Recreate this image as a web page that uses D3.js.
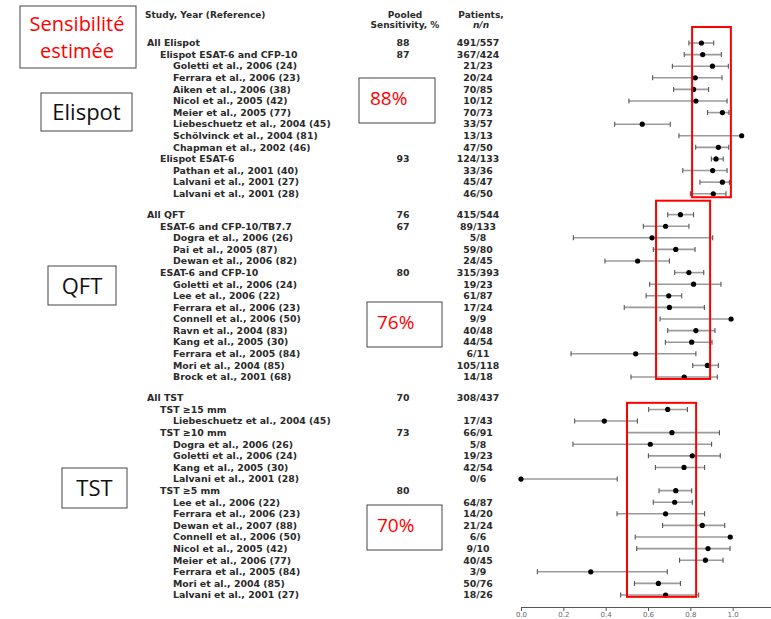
<!DOCTYPE html>
<html>
<head>
<meta charset="utf-8">
<script src="https://cdn.jsdelivr.net/npm/d3@7"></script>
<style>
  body { margin: 0; background: #fff; }
  svg { display: block; }
  .tbl { font-family: "DejaVu Sans", Verdana, sans-serif; font-weight: bold; fill: #2a2a2a; }
</style>
</head>
<body>
<div id="chart"></div>
<script>
// forest plot, sensitivity of Elispot / QFT / TST

// rows, top to bottom
var labels = [
  "All Elispot", "Elispot ESAT-6 and CFP-10", "Goletti et al., 2006 (24)", "Ferrara et al., 2006 (23)",
  "Aiken et al., 2006 (38)", "Nicol et al., 2005 (42)", "Meier et al., 2005 (77)",
  "Liebeschuetz et al., 2004 (45)", "Schölvinck et al., 2004 (81)", "Chapman et al., 2002 (46)",
  "Elispot ESAT-6", "Pathan et al., 2001 (40)", "Lalvani et al., 2001 (27)", "Lalvani et al., 2001 (28)",

  "All QFT", "ESAT-6 and CFP-10/TB7.7", "Dogra et al., 2006 (26)", "Pai et al., 2005 (87)",
  "Dewan et al., 2006 (82)", "ESAT-6 and CFP-10", "Goletti et al., 2006 (24)", "Lee et al., 2006 (22)",
  "Ferrara et al., 2006 (23)", "Connell et al., 2006 (50)", "Ravn et al., 2004 (83)",
  "Kang et al., 2005 (30)", "Ferrara et al., 2005 (84)", "Mori et al., 2004 (85)", "Brock et al., 2001 (68)",

  "All TST", "TST \u226515 mm", "Liebeschuetz et al., 2004 (45)", "TST \u226510 mm",
  "Dogra et al., 2006 (26)", "Goletti et al., 2006 (24)", "Kang et al., 2005 (30)",
  "Lalvani et al., 2001 (28)", "TST \u22655 mm", "Lee et al., 2006 (22)", "Ferrara et al., 2006 (23)",
  "Dewan et al., 2007 (88)", "Connell et al., 2006 (50)", "Nicol et al., 2005 (42)",
  "Meier et al., 2006 (77)", "Ferrara et al., 2005 (84)", "Mori et al., 2004 (85)", "Lalvani et al., 2001 (27)"
];

// 0 = overall, 1 = subgroup, 2 = study
var levels = [
  0, 1, 2, 2, 2, 2, 2, 2, 2, 2, 1, 2, 2, 2,
  0, 1, 2, 2, 2, 1, 2, 2, 2, 2, 2, 2, 2, 2, 2,
  0, 1, 2, 1, 2, 2, 2, 2, 1, 2, 2, 2, 2, 2, 2, 2, 2, 2
];

var groups = [
  0, 0, 0, 0, 0, 0, 0, 0, 0, 0, 0, 0, 0, 0,
  1, 1, 1, 1, 1, 1, 1, 1, 1, 1, 1, 1, 1, 1, 1,
  2, 2, 2, 2, 2, 2, 2, 2, 2, 2, 2, 2, 2, 2, 2, 2, 2, 2
];

var pooled = [
  "88", "87", "", "", "", "", "", "", "", "", "93", "", "", "",
  "76", "67", "", "", "", "80", "", "", "", "", "", "", "", "", "",
  "70", "", "", "73", "", "", "", "", "80", "", "", "", "", "", "", "", "", ""
];

var patients = [
  "491/557", "367/424", "21/23", "20/24", "70/85", "10/12", "70/73", "33/57", "13/13", "47/50",
  "124/133", "33/36", "45/47", "46/50",
  "415/544", "89/133", "5/8", "59/80", "24/45", "315/393", "19/23", "61/87", "17/24", "9/9",
  "40/48", "44/54", "6/11", "105/118", "14/18",
  "308/437", "", "17/43", "66/91", "5/8", "19/23", "42/54", "0/6", "", "64/87", "14/20",
  "21/24", "6/6", "9/10", "40/45", "3/9", "50/76", "18/26"
];

// point estimate and 95% CI (null = not drawn)
var ciLow = [
  0.792, 0.770, 0.714, 0.621, 0.720, 0.509, 0.880, 0.442, 0.745, 0.824, 0.898, 0.763, 0.844, 0.799,
  0.692, 0.577, 0.247, 0.624, 0.396, 0.725, 0.607, 0.590, 0.487, 0.656, 0.692, 0.681, 0.236, 0.810, 0.519,
  null, 0.602, 0.253, 0.498, 0.245, 0.601, 0.634, 0.000, 0.651, 0.624, 0.453, 0.668, 0.539, 0.546,
  0.748, 0.077, 0.535, 0.470
];
var ciEst = [
  0.851, 0.857, 0.903, 0.822, 0.814, 0.825, 0.950, 0.572, 1.041, 0.931, 0.920, 0.904, 0.950, 0.907,
  0.752, 0.682, 0.618, 0.730, 0.550, 0.792, 0.814, 0.697, 0.700, 0.991, 0.825, 0.805, 0.541, 0.879, 0.770,
  null, 0.692, 0.393, 0.712, 0.610, 0.808, 0.769, 0.000, 0.730, 0.725, 0.682, 0.855, 0.987, 0.882,
  0.870, 0.329, 0.648, 0.682
];
var ciHigh = [
  0.909, 0.945, 0.978, 0.948, 0.885, 0.972, 0.981, 0.704, null, 0.980, 0.954, 0.972, 0.983, 0.967,
  0.814, 0.792, 0.904, 0.821, 0.700, 0.862, 0.943, 0.758, 0.865, null, 0.915, 0.901, 0.825, 0.931, 0.926,
  null, 0.785, 0.549, 0.936, 0.899, 0.940, 0.866, 0.454, 0.805, 0.808, 0.866, 0.961, null, 0.986,
  0.953, 0.690, 0.752, 0.838
];

var axisTicks = [0, 0.2, 0.4, 0.6, 0.8, 1.0];

// highlighted ranges per group (sensitivity units)
var bandLow = [0.807, 0.637, 0.500];
var bandHigh = [0.990, 0.892, 0.826];
var bandText = ["88%", "76%", "70%"];
var groupNames = ["Elispot", "QFT", "TST"];

var W = 771, H = 619;
var svg = d3.select("#chart").append("svg").attr("width", W).attr("height", H);

var rows = labels.map(function (d, i) {
  return {
    label: d, level: levels[i], group: groups[i], pooled: pooled[i], patients: patients[i],
    lo: ciLow[i], est: ciEst[i], hi: ciHigh[i],
    slot: i + groups[i] * 0.8
  };
});

var y = d3.scaleLinear().domain([0, 47.6]).range([43, 595]);
var x = d3.scaleLinear().domain([0, 1]).range([521, 733]);

var indent = [147, 160, 173];
var colPooled = 403, colPatients = 478;

// header
var head = svg.append("g").attr("class", "tbl").style("font-size", "9px");
head.append("text").attr("x", 145).attr("y", 18).text("Study, Year (Reference)");
head.append("text").attr("x", colPooled + 2).attr("y", 18).attr("text-anchor", "middle").text("Pooled");
head.append("text").attr("x", colPooled + 2).attr("y", 28).attr("text-anchor", "middle").text("Sensitivity, %");
head.append("text").attr("x", colPatients + 3).attr("y", 18).attr("text-anchor", "middle").text("Patients,");
head.append("text").attr("x", colPatients + 3).attr("y", 28).attr("text-anchor", "middle")
  .style("font-style", "italic").text("n/n");

// table columns
var tbl = svg.append("g").attr("class", "tbl").style("font-size", "9.4px");
var row = tbl.selectAll("g.row").data(rows).enter().append("g")
  .attr("class", "row")
  .attr("transform", function (d) { return "translate(0," + (y(d.slot) + 3.3) + ")"; });

row.append("text").attr("x", function (d) { return indent[d.level]; }).text(function (d) { return d.label; });
row.append("text").attr("x", colPooled).attr("text-anchor", "middle").text(function (d) { return d.pooled; });
row.append("text").attr("x", colPatients).attr("text-anchor", "middle").text(function (d) { return d.patients; });

// confidence intervals
var ci = svg.append("g").selectAll("g").data(rows.filter(function (d) { return d.est !== null; }))
  .enter().append("g")
  .attr("transform", function (d) { return "translate(0," + y(d.slot) + ")"; });

ci.append("line")
  .attr("x1", function (d) { return x(d.lo); })
  .attr("x2", function (d) { return x(d.hi === null ? d.est : d.hi); })
  .attr("stroke", "#9a9a9a").attr("stroke-width", 1.6);

ci.append("line")
  .attr("x1", function (d) { return x(d.lo); }).attr("x2", function (d) { return x(d.lo); })
  .attr("y1", -2.5).attr("y2", 2.5)
  .attr("stroke", "#555").attr("stroke-width", 1.1);

ci.filter(function (d) { return d.hi !== null; }).append("line")
  .attr("x1", function (d) { return x(d.hi); }).attr("x2", function (d) { return x(d.hi); })
  .attr("y1", -2.5).attr("y2", 2.5)
  .attr("stroke", "#555").attr("stroke-width", 1.1);

ci.append("circle")
  .attr("cx", function (d) { return x(d.est); })
  .attr("r", 2.6)
  .attr("fill", "#000");

// x axis
var xAxis = d3.axisBottom(d3.scaleLinear().domain([0, 1.2]).range([521, 775]))
  .tickValues(axisTicks)
  .tickFormat(d3.format(".1f"))
  .tickSize(4)
  .tickSizeOuter(0);

var ax = svg.append("g").attr("transform", "translate(0,607)").call(xAxis);
ax.select(".domain").attr("stroke", "#555");
ax.selectAll(".tick line").attr("stroke", "#555");
ax.selectAll(".tick text")
  .attr("y", 9.5)
  .attr("dy", 0)
  .style("font-family", "DejaVu Sans, sans-serif")
  .style("font-size", "7px")
  .attr("fill", "#666");

// red highlight boxes around each group's CIs
var slotFirst = [0, 14.8, 30.6], slotLast = [13, 28.8, 47.6];
var padTop = [1.38, 1.2, -0.43], padBot = [0.3, 0.17, 0.16];

svg.append("g").selectAll("rect").data(groupNames).enter().append("rect")
  .attr("x", function (d, i) { return x(bandLow[i]); })
  .attr("width", function (d, i) { return x(bandHigh[i]) - x(bandLow[i]); })
  .attr("y", function (d, i) { return y(slotFirst[i] - padTop[i]); })
  .attr("height", function (d, i) { return y(slotLast[i] + padBot[i]) - y(slotFirst[i] - padTop[i]); })
  .attr("fill", "none").attr("stroke", "#f00").attr("stroke-width", 2);

// boxed percentages next to the table
var pctBoxes = [
  { x: 359, y: 78, w: 76, h: 45, tx: 370, ty: 105 },
  { x: 367, y: 302, w: 75, h: 45, tx: 377, ty: 329 },
  { x: 367, y: 505, w: 75, h: 45, tx: 377, ty: 532 }
];
var pct = svg.append("g").selectAll("g").data(pctBoxes).enter().append("g");
pct.append("rect")
  .attr("x", function (d) { return d.x; }).attr("y", function (d) { return d.y; })
  .attr("width", function (d) { return d.w; }).attr("height", function (d) { return d.h; })
  .attr("fill", "#fff").attr("stroke", "#444").attr("stroke-width", 1);
pct.append("text")
  .attr("x", function (d) { return d.tx; }).attr("y", function (d) { return d.ty; })
  .style("font-family", "'Open Sans', sans-serif").style("font-size", "19px")
  .attr("fill", "#f00")
  .text(function (d, i) { return bandText[i]; });

// left side labels
var sideBoxes = [
  { x: 20, y: 6, w: 116, h: 62 },
  { x: 41, y: 93, w: 91, h: 38 },
  { x: 48, y: 266, w: 68, h: 39 },
  { x: 62, y: 468, w: 65, h: 40 }
];
var side = svg.append("g");
side.selectAll("rect").data(sideBoxes).enter().append("rect")
  .attr("x", function (d) { return d.x; }).attr("y", function (d) { return d.y; })
  .attr("width", function (d) { return d.w; }).attr("height", function (d) { return d.h; })
  .attr("fill", "#fff").attr("stroke", "#444").attr("stroke-width", 1);

var title = side.append("text")
  .style("font-family", "'Open Sans', sans-serif").style("font-size", "20px")
  .attr("fill", "#f00").attr("text-anchor", "middle");
title.append("tspan").attr("x", 77).attr("y", 31).text("Sensibilité");
title.append("tspan").attr("x", 77).attr("y", 58).text("estimée");

side.selectAll("text.grp").data(groupNames).enter().append("text")
  .attr("class", "grp")
  .attr("x", function (d, i) { return sideBoxes[i + 1].x + sideBoxes[i + 1].w / 2; })
  .attr("y", function (d, i) { return sideBoxes[i + 1].y + sideBoxes[i + 1].h / 2 + 8; })
  .attr("text-anchor", "middle")
  .style("font-family", "'Open Sans', sans-serif").style("font-size", "22px")
  .attr("fill", "#111")
  .text(function (d) { return d; });
</script>
</body>
</html>
